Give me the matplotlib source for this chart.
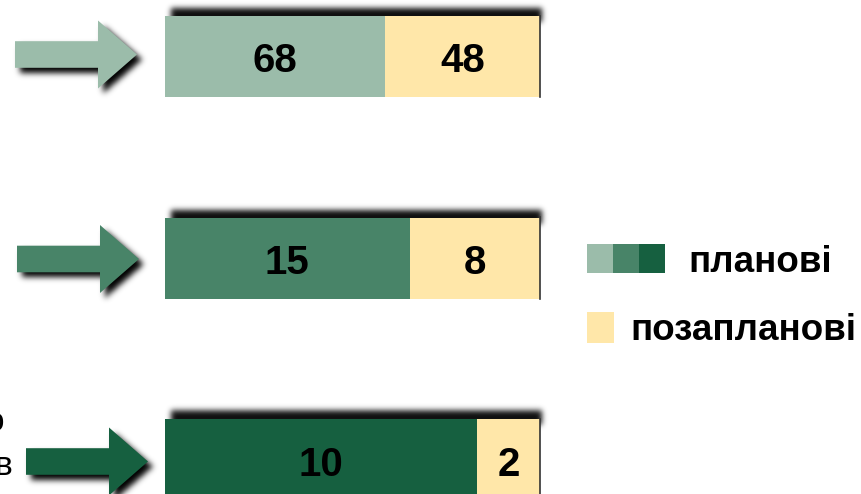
import matplotlib
matplotlib.use("Agg")
import matplotlib.pyplot as plt
from matplotlib.patches import Polygon, Rectangle
from matplotlib.path import Path
import numpy as np

# ---- data ----
planned = [68, 15, 10]
unplanned = [48, 8, 2]
planned_colors = ["#9BBCAA", "#488468", "#166040"]
unplanned_color = "#FFE7A9"
legend_labels = ["планові", "позапланові"]
left_text = ["о", "в"]

plt.rcParams['font.family'] = ['Liberation Sans', 'DejaVu Sans']

W, H = 862, 494
fig = plt.figure(figsize=(W / 100, H / 100), dpi=100)
ax = fig.add_axes([0, 0, 1, 1])
ax.set_axis_off()

# pixel mapping (layout only)
X0, XS = 165.0, 375.0
Y0, YS = 56.5, 201.5
def X(px):
    return (px - X0) / XS
def Y(py):
    return (py - Y0) / YS


def gauss_blur(a, sigma):
    r = int(3 * sigma) + 1
    k = np.exp(-0.5 * (np.arange(-r, r + 1) / sigma) ** 2)
    k /= k.sum()
    a = np.apply_along_axis(lambda v: np.convolve(v, k, mode="same"), 0, a)
    a = np.apply_along_axis(lambda v: np.convolve(v, k, mode="same"), 1, a)
    return a


def blurred_shadow(pts_px, off, sigma, amax, z=2):
    pts = np.array(pts_px, float) + off
    pad = int(4 * sigma) + 2
    x0, y0 = np.floor(pts.min(0)) - pad
    x1, y1 = np.ceil(pts.max(0)) + pad
    xs = np.arange(x0, x1) + 0.5
    ys = np.arange(y0, y1) + 0.5
    gx, gy = np.meshgrid(xs, ys)
    m = Path(pts).contains_points(np.c_[gx.ravel(), gy.ravel()]).reshape(gx.shape).astype(float)
    m = gauss_blur(m, sigma)
    img = np.zeros(m.shape + (4,))
    img[..., 3] = np.clip(m * amax, 0, 1)
    ax.imshow(img, extent=(X(x0), X(x1), Y(y1), Y(y0)), origin="upper",
              interpolation="bilinear", zorder=z, aspect="auto")


pos = np.arange(len(planned))
tot = np.array(planned, float) + np.array(unplanned, float)
pf = np.array(planned) / tot
uf = np.array(unplanned) / tot
bh = 81 / YS

# bar top shadows (decoration)
for i in pos:
    top_px = Y0 + i * YS - 40.5
    blurred_shadow([(171, top_px - 8), (542, top_px - 8), (542, top_px + 6), (171, top_px + 6)],
                   0, 2.8, 0.95, z=1)

ax.barh(pos, pf, height=bh, left=0, color=planned_colors, zorder=3)
ax.barh(pos, uf, height=bh, left=pf, color=unplanned_color, zorder=3)
for i in pos:
    ax.plot([1.0, 1.0], [i - bh / 2, i + bh / 2], color="#333333", lw=1.2, zorder=4)

for i in pos:
    base = i + 16 / YS
    ax.text(pf[i] / 2, base, str(planned[i]), ha="center", va="baseline",
            fontsize=29, fontweight="bold", color="black", zorder=5)
    ax.text(pf[i] + uf[i] / 2, base, str(unplanned[i]), ha="center", va="baseline",
            fontsize=29, fontweight="bold", color="black", zorder=5)

# arrows (decoration)
arrow_left = [15, 17, 26]
arrow_dy = [-2, 1, 2]
shaft_len, head_len, shaft_h, head_h = 83, 39, 13.3, 34
for i in pos:
    cx = arrow_left[i]
    cy = Y0 + i * YS + arrow_dy[i]
    pts_px = [(cx, cy - shaft_h), (cx + shaft_len, cy - shaft_h), (cx + shaft_len, cy - head_h),
              (cx + shaft_len + head_len, cy), (cx + shaft_len, cy + head_h),
              (cx + shaft_len, cy + shaft_h), (cx, cy + shaft_h)]
    blurred_shadow(pts_px, np.array([5.0, 5.0]), 3.0, 1.0, z=2)
    ax.add_patch(Polygon([(X(x), Y(y)) for x, y in pts_px], closed=True,
                         facecolor=planned_colors[i], edgecolor="none", zorder=3))

# cut-off left labels
ax.text(X(4), Y(422), left_text[0], ha="right", va="center", fontsize=24, color="black")
ax.text(X(12), Y(466), left_text[1], ha="right", va="center", fontsize=24, color="black")

# legend
for j, c in enumerate(planned_colors):
    ax.add_patch(Rectangle((X(587 + 26 * j), Y(244)), 26 / XS, 29 / YS,
                           facecolor=c, edgecolor="none", zorder=3))
ax.add_patch(Rectangle((X(587), Y(312)), 27 / XS, 31 / YS,
                       facecolor=unplanned_color, edgecolor="none", zorder=3))
ax.text(X(688), Y(272), legend_labels[0], ha="left", va="baseline",
        fontsize=26.5, fontweight="bold", color="black")
ax.text(X(630), Y(340), legend_labels[1], ha="left", va="baseline",
        fontsize=26.5, fontweight="bold", color="black")

ax.set_xlim(X(0), X(W))
ax.set_ylim(Y(H), Y(0))

fig.savefig("out.png", dpi=100)
